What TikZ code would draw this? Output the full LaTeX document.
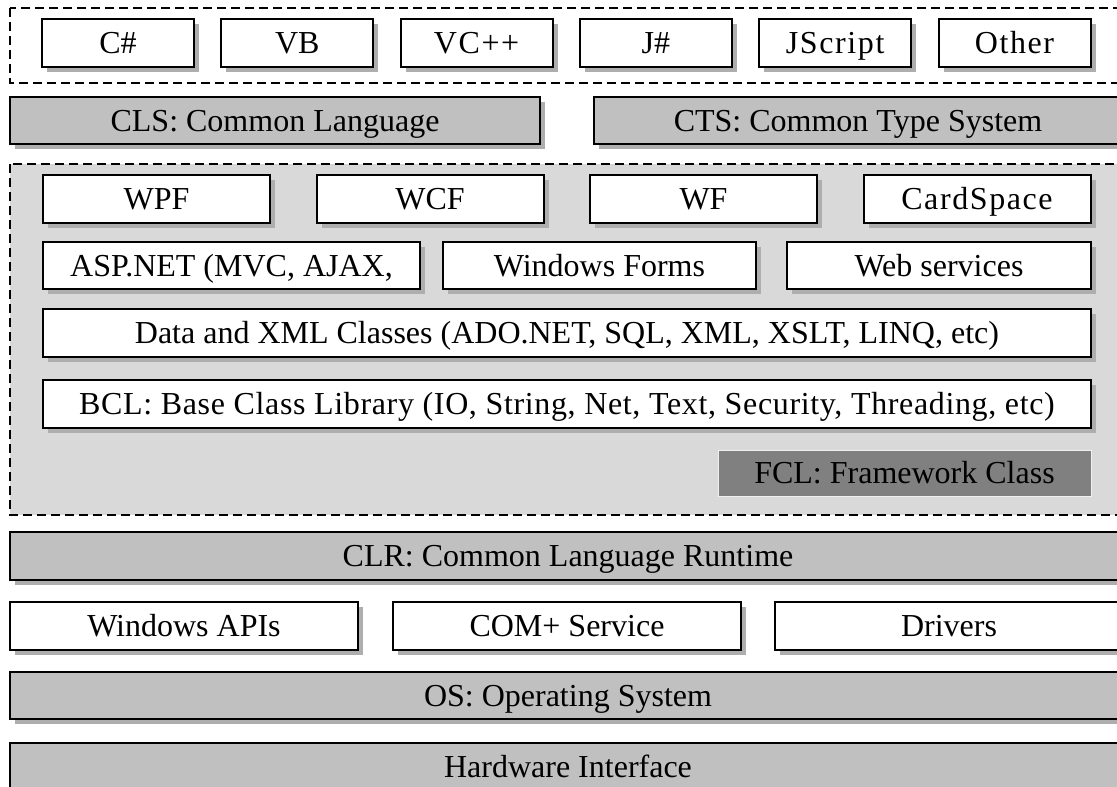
\documentclass[tikz,border=0pt]{standalone}
\usepackage{fontspec}
\setmainfont{Liberation Serif}
\usetikzlibrary{shadows}
\definecolor{shade}{HTML}{AEAEAE}
\definecolor{layergray}{HTML}{C0C0C0}
\definecolor{panelgray}{HTML}{D9D9D9}
\definecolor{fclgray}{HTML}{808080}
\tikzset{
  box/.style={draw, line width=2pt, fill=white, inner sep=0pt,
    text height=24.5pt, text depth=3.5pt, font=\fontsize{32}{37}\selectfont,
    drop shadow={shadow xshift=5pt, shadow yshift=-5pt, fill=shade, opacity=1}},
  graybox/.style={box, fill=layergray},
  spaced/.style={font=\fontsize{32}{37}\selectfont\addfontfeature{LetterSpace=5}},
  loose/.style={font=\fontsize{32}{37}\selectfont\addfontfeature{LetterSpace=2}},
  frame/.style={draw, line width=1.5pt, dash pattern=on 9pt off 5pt}
}
\begin{document}
\begin{tikzpicture}[x=1pt, y=-1pt]
    \useasboundingbox (0,0) rectangle (1117,787);
    \clip (0,0) rectangle (1117,787);
    \draw[frame, fill=white] (10,8) rectangle (1135,83);
    \node[box, minimum width=152pt, minimum height=48pt] (csharp) at (118,43) {C\#};
    \node[box, minimum width=152pt, minimum height=48pt] (vb) at (297.3,43) {VB};
    \node[box, spaced, minimum width=152pt, minimum height=48pt] (vcpp) at (476.6,43) {VC++};
    \node[box, minimum width=152pt, minimum height=48pt] (jsharp) at (655.9,43) {J\#};
    \node[box, spaced, minimum width=152pt, minimum height=48pt] (jscript) at (835.2,43) {JScript};
    \node[box, spaced, minimum width=152pt, minimum height=48pt] (other) at (1014.5,43) {Other};
    \node[graybox, minimum width=530pt, minimum height=47pt] (cls) at (275,120.5) {CLS: Common Language};
    \node[graybox, minimum width=528pt, minimum height=47pt] (cts) at (858,120.5) {CTS: Common Type System};
    \draw[frame, fill=panelgray] (10,164) rectangle (1135,515);
    \node[box, minimum width=227pt, minimum height=48pt] (wpf) at (156.5,199) {WPF};
    \node[box, minimum width=227pt, minimum height=48pt] (wcf) at (430,199) {WCF};
    \node[box, minimum width=227pt, minimum height=48pt] (wf) at (703.5,199) {WF};
    \node[box, spaced, minimum width=227pt, minimum height=48pt] (cardspace) at (977,199) {CardSpace};
    \node[box, minimum width=377pt, minimum height=47pt] (aspnet) at (231.5,265.5) {ASP.NET (MVC, AJAX,};
    \node[box, minimum width=313pt, minimum height=47pt] (winforms) at (599.5,265.5) {Windows Forms};
    \node[box, minimum width=304pt, minimum height=47pt] (websvc) at (939,265.5) {Web services};
    \node[box, minimum width=1048pt, minimum height=48pt] (data) at (567,333) {Data and XML Classes (ADO.NET, SQL, XML, XSLT, LINQ, etc)};
    \node[box, loose, minimum width=1048pt, minimum height=48pt] (bcl) at (567,404) {BCL: Base Class Library (IO, String, Net, Text, Security, Threading, etc)};
    \node[draw=white!94!black, line width=1pt, fill=fclgray, inner sep=0pt, text height=24.5pt, text depth=3.5pt,
      font=\fontsize{32}{37}\selectfont, minimum width=373pt, minimum height=46pt] (fcl) at (904.5,473) {FCL: Framework Class};
    \node[graybox, minimum width=1116pt, minimum height=48pt] (clr) at (568,556) {CLR: Common Language Runtime};
    \node[box, minimum width=348pt, minimum height=48pt] (winapi) at (184,626) {Windows APIs};
    \node[box, minimum width=348pt, minimum height=48pt] (complus) at (567,626) {COM+ Service};
    \node[box, minimum width=348pt, minimum height=48pt] (drivers) at (949,626) {Drivers};
    \node[graybox, minimum width=1116pt, minimum height=47pt] (os) at (568,695.5) {OS: Operating System};
    \node[graybox, minimum width=1116pt, minimum height=48pt] (hw) at (568,767) {Hardware Interface};
\end{tikzpicture}
\end{document}
